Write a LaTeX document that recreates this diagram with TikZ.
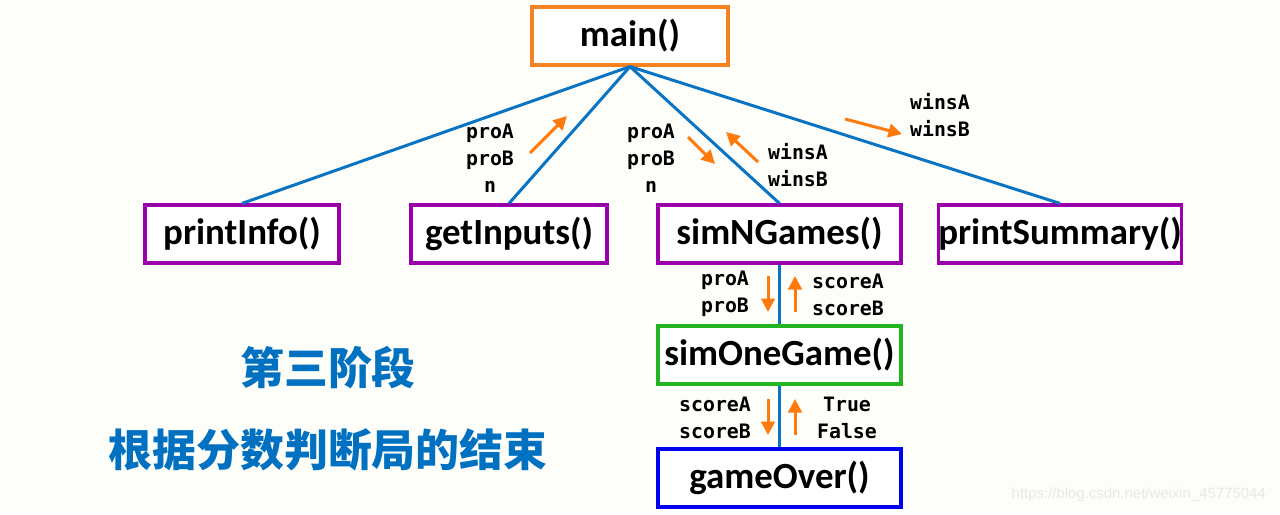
\documentclass[tikz,border=0pt]{standalone}
\usepackage{fontspec}
\setmainfont{Carlito}
\setsansfont{Liberation Sans}
\setmonofont{DejaVu Sans Mono}
\newfontfamily\cjk{Noto Sans CJK SC}
\usetikzlibrary{arrows.meta,positioning}
\definecolor{PageBg}{HTML}{FDFDFA}
\definecolor{MainOrange}{HTML}{F58220}
\definecolor{FuncPurple}{HTML}{9A00AA}
\definecolor{SimGreen}{HTML}{22B422}
\definecolor{OverBlue}{HTML}{0000F5}
\definecolor{LineBlue}{HTML}{0A74C4}
\definecolor{ArrowOrange}{HTML}{FF7A0A}
\definecolor{TitleBlue}{HTML}{0070C0}
\tikzset{
  funcbox/.style={draw,line width=1.8pt,fill=white,minimum height=1.16cm,inner sep=0pt,font=\fontsize{21}{24}\selectfont\bfseries},
  mainbox/.style={funcbox,draw=MainOrange,minimum width=3.92cm},
  callbox/.style={funcbox,draw=FuncPurple},
  simbox/.style={funcbox,draw=SimGreen,minimum width=4.86cm},
  overbox/.style={funcbox,draw=OverBlue,minimum width=4.86cm},
  callline/.style={draw=LineBlue,line width=1.7pt},
  dataarrow/.style={-{Triangle[length=2.7mm,width=2.7mm]},line width=1.7pt,draw=ArrowOrange},
  paramtext/.style={align=center,inner sep=0pt,font=\fontsize{11.3}{15.3}\selectfont\ttfamily\bfseries},
  titletext/.style={text=TitleBlue,inner sep=0pt,font=\cjk\fontsize{25}{30}\selectfont\bfseries}
}
\begin{document}
\begin{tikzpicture}[x=0.02cm,y=-0.02cm]
\useasboundingbox[fill=PageBg] (0,0) rectangle (1280,514);
% call tree
\node[mainbox] (main) at (630,36) {main()};
\node[callbox,minimum width=3.88cm] (info) at (242,234) {printInfo()};
\node[callbox,minimum width=3.92cm] (inputs) at (509,234) {getInputs()};
\node[callbox,minimum width=4.86cm] (ngames) at (779.5,234) {simNGames()};
\node[callbox,minimum width=4.84cm] (summary) at (1060,234) {printSummary()};
\node[simbox] (onegame) at (779.5,355) {simOneGame()};
\node[overbox] (over) at (779.5,478) {gameOver()};
\foreach \f in {info,inputs,ngames,summary}
  \draw[callline] (main.south) -- (\f.north);
\draw[callline] (ngames) -- (onegame);
\draw[callline] (onegame) -- (over);
% passed values
\node[paramtext] (p1) at (490,158) {proA\\proB\\n};
\node[paramtext] (p2) at (651,158) {proA\\proB\\n};
\node[paramtext,align=left] (w1) at (798,165) {winsA\\winsB};
\node[paramtext,align=left] (w2) at (940,115) {winsA\\winsB};
\node[paramtext] (p3) at (725,294) {proA\\proB};
\node[paramtext] (s1) at (848,295) {scoreA\\scoreB};
\node[paramtext] (s2) at (715,418) {scoreA\\scoreB};
\node[paramtext] (tf) at (847,418) {True\\False};
\draw[dataarrow] (530,153) -- (567,116);
\draw[dataarrow] (688,137) -- (715,164);
\draw[dataarrow] (758,162) -- (726,132);
\draw[dataarrow] (845,119) -- (902,134);
\foreach \y in {276,399}{
  \draw[dataarrow] (768,\y) -- (768,\y+36);
  \draw[dataarrow] (795,\y+36) -- (795,\y);
}
% stage caption
\node[titletext] (stage) at (328,368) {第三阶段};
\node[titletext] (goal) at (328,450) {根据分数判断局的结束};
\node[anchor=east,text=black!9,font=\sffamily\fontsize{8.5}{10}\selectfont] (url) at (1272,495) {https://blog.csdn.net/weixin\_45775044};
\end{tikzpicture}
\end{document}
